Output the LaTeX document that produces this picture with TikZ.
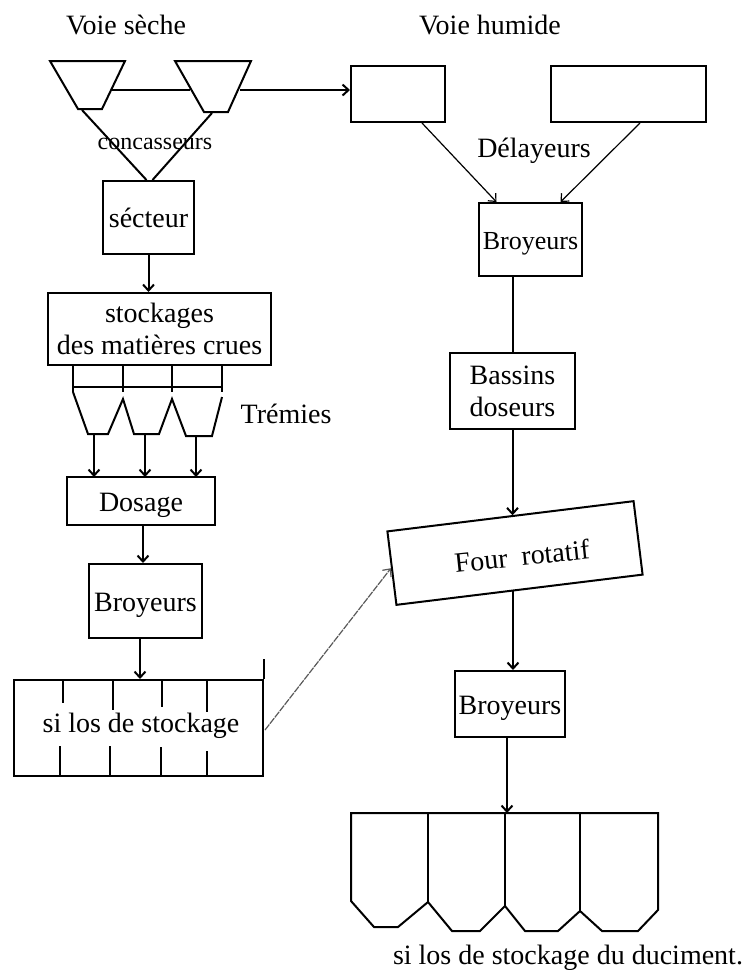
\documentclass[tikz,border=0pt]{standalone}
\usepackage{fontspec}
\setmainfont{Liberation Serif}
\usetikzlibrary{calc,arrows.meta,positioning}
\tikzset{
	trait/.style={line width=2pt},
	fin/.style={line width=1.2pt},
	boite/.style={draw, trait, inner sep=0pt, align=center},
	ligne/.style={text height=20pt, text depth=0pt},
	texte/.style={inner sep=0pt, align=center},
}
\begin{document}
\begin{tikzpicture}[x=1pt, y=-1pt, >={Straight Barb[length=6pt,width=11pt]}, every node/.style={font=\fontsize{28}{32}\selectfont}]
		\useasboundingbox (0,0) rectangle (749,970);

		% Titres
		\node[texte] (voieSeche) at (126,25) {Voie sèche};
		\node[texte] (voieHumide) at (490,25) {Voie humide};

		% Concasseurs
		\draw[trait] (50,61) -- (125,61) -- (102,109) -- (78,109) -- cycle;
		\draw[trait] (175,61) -- (251,61) -- (228,112) -- (204,112) -- cycle;
		\coordinate (concA) at (112,90);
		\coordinate (concB) at (190,90);
		\coordinate (concC) at (240,90);
		\coordinate (concD) at (82,110);
		\coordinate (concE) at (212,113);
		\node[texte, font=\fontsize{24}{28}\selectfont] (concasseurs) at (155,144) {concasseurs};

		% Voie seche
		\node[boite, ligne, minimum width=91pt, minimum height=73pt] (secteur) at (148.5,217.5) {sécteur};
		\node[boite, minimum width=223pt, minimum height=72pt] (stockages) at (159.5,329) {stockages\\des matières crues};
		\node[boite, ligne, minimum width=148pt, minimum height=48pt] (dosage) at (141,501) {Dosage};
		\node[boite, ligne, minimum width=113pt, minimum height=74pt] (broyeursA) at (145.5,601) {Broyeurs};
		\node[boite, minimum width=249pt, minimum height=96pt] (silosA) at (138.5,728) {};
		\node[texte] (silosTexte) at (141,726) {si los de stockage};
		\node[texte] (tremies) at (286,414) {Trémies};

		% Voie humide
		\node[boite, minimum width=94pt, minimum height=56pt] (delayeurA) at (398,94) {};
		\node[boite, minimum width=155pt, minimum height=56pt] (delayeurB) at (628.5,94) {};
		\node[texte] (delayeurs) at (534,151) {Délayeurs};
		\node[boite, ligne, font=\fontsize{26}{30}\selectfont, minimum width=103pt, minimum height=73pt] (broyeursB) at (530.5,239.5) {Broyeurs};
		\node[boite, minimum width=125pt, minimum height=76pt] (bassins) at (512.5,391) {Bassins\\doseurs};
		\node[boite, rotate=7, minimum width=248pt, minimum height=74pt] (four) at (515,553) {};
		\node[texte, rotate=6] (fourTexte) at (522,556) {Four\ \ rotatif};
		\node[boite, ligne, minimum width=110pt, minimum height=66pt] (broyeursC) at (510,704) {Broyeurs};
		\node[texte] (silosBas) at (568,958) {si los de stockage du duciment.};

		% Liaisons concasseurs
		\draw[trait] (concA) -- (concB);
		\draw[trait, ->] (concC) -- (concC -| delayeurA.west);
		\draw[trait] (concD) -- ($(secteur.north)+(-2,0)$);
		\draw[trait] (concE) -- ($(secteur.north)+(4,0)$);

		% Tremies
		\foreach \x in {73,123,172,222}
			\draw[fin] (\x,365) -- (\x,392);
		\draw[fin] (73,387) -- (222,387);
		\draw[trait] (73,392) -- (88,434) -- (108,434) -- (123,399) -- (134,434) -- (159,434) -- (172,399) -- (186,436) -- (212,436) -- (222,397);
		\foreach \x/\y in {94/434,145/434,196/436}
			\draw[trait, ->] (\x,\y) -- (\x,477);

		% Fleches voie seche
		\draw[trait, ->] (secteur.south) -- (secteur.south |- stockages.north);
		\draw[trait, ->] ($(dosage.south)+(2,0)$) -- ($(dosage.south |- broyeursA.north)+(2,0)$);
		\draw[trait, ->] ($(silosA.north |- broyeursA.south)+(1.5,0)$) -- ($(silosA.north)+(1.5,0)$);

		% Silos de stockage
		\draw[fin] (silosA.north east) -- ++(0,-20);
		\foreach \x/\y in {63/703,113/710,162/707,207/712}
			\draw[fin] (\x,680) -- (\x,\y);
		\foreach \x/\y in {60/746,110/746,161/747,207/751}
			\draw[fin] (\x,776) -- (\x,\y);
		\draw[fin, dash pattern=on 7pt off 1pt, gray!70!black, ->] ($(silosA.east)+(1,2)$) -- (four.west);

		% Fleches voie humide
		\draw[fin, ->] (422,123) -- ($(broyeursB.north)+(-34,0)$);
		\draw[fin, ->] (640,123) -- ($(broyeursB.north)+(30,0)$);
		\draw[trait] (bassins.north) -- (bassins.north |- broyeursB.south);
		\draw[trait, ->] (bassins.south) -- (bassins.south |- four.north);
		\draw[trait, ->] ($(broyeursC.north |- four.south)+(3,0)$) -- ($(broyeursC.north)+(3,0)$);
		\draw[trait, ->] ($(broyeursC.south)+(-3,0)$) -- (507,813);

		% Silos du bas
		\draw[trait] (351,813) -- (351,901) -- (374,927) -- (398,927) -- (428,902) -- (452,931) -- (480,931) -- (505,906) -- (525,931) -- (558,931) -- (580,911) -- (602,931) -- (638,931) -- (658,910) -- (658,813) -- cycle;
		\foreach \x/\y in {428/902,505/906,580/911}
			\draw[trait] (\x,813) -- (\x,\y);

	\end{tikzpicture}
\end{document}
